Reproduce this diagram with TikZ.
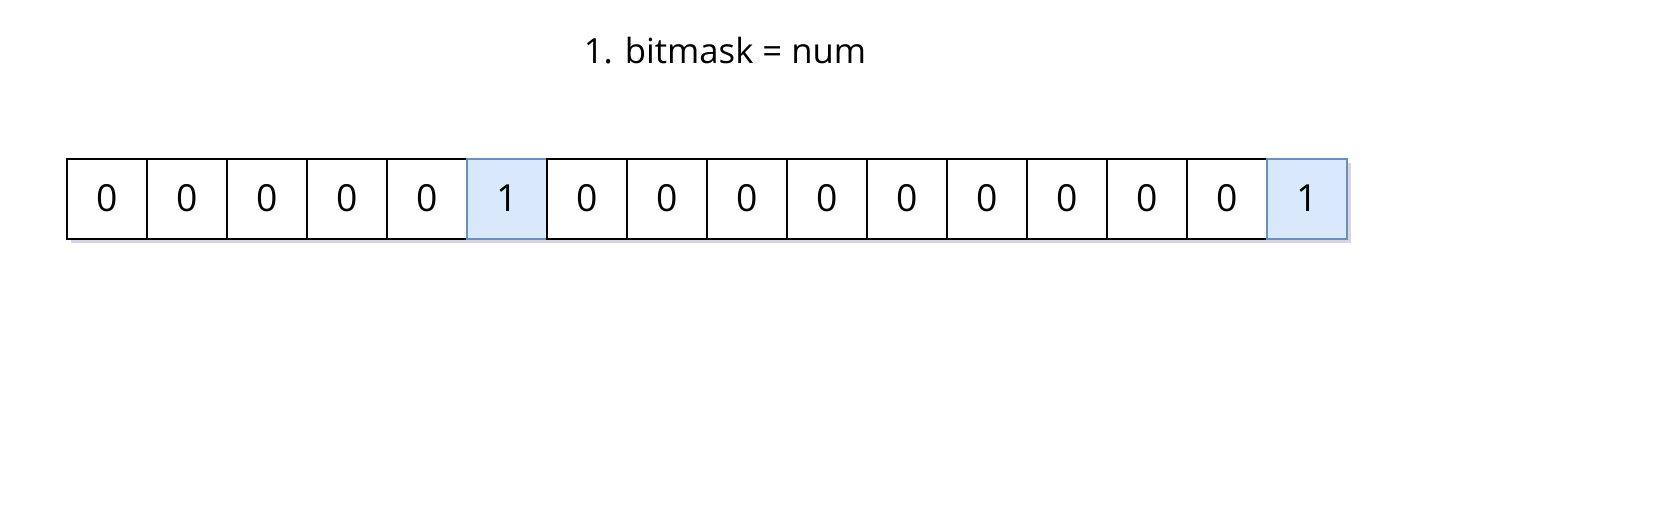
\documentclass[tikz,border=0pt]{standalone}
\usepackage{fontspec}
\setmainfont{Open Sans}
\usetikzlibrary{positioning}
\usetikzlibrary{shadows}
\definecolor{bitblue}{HTML}{DAE8FC}
\definecolor{bitedge}{HTML}{6C8EBF}
\definecolor{shade}{HTML}{9896C0}
\tikzset{bit/.style={draw, line width=1.5pt, rectangle, minimum size=60pt, inner sep=0pt, outer sep=0pt, fill=white, font=\fontsize{28}{32}\selectfont, drop shadow={shadow xshift=3pt, shadow yshift=-3.5pt, fill=shade, opacity=0.4}}}
\tikzset{setbit/.style={bit, fill=bitblue, draw=bitedge}}

\begin{document}
\begin{tikzpicture}[x=0.75pt, y=-0.75pt]
\useasboundingbox (0,0) rectangle (1672,528);
\node[font=\fontsize{26}{30}\selectfont] (title) at (725,51) {1. bitmask = num};
\node[bit] (b1) at (106.7,198.5) {0};
\foreach \v [count=\i from 2, evaluate=\i as \j using int(\i-1)] in {0,0,0,0,1,0,0,0,0,0,0,0,0,0,1} {
  \ifnum\v=1
    \node[setbit, right=0pt of b\j] (b\i) {1};
  \else
    \node[bit, right=0pt of b\j] (b\i) {0};
  \fi
}
\end{tikzpicture}
\end{document}
